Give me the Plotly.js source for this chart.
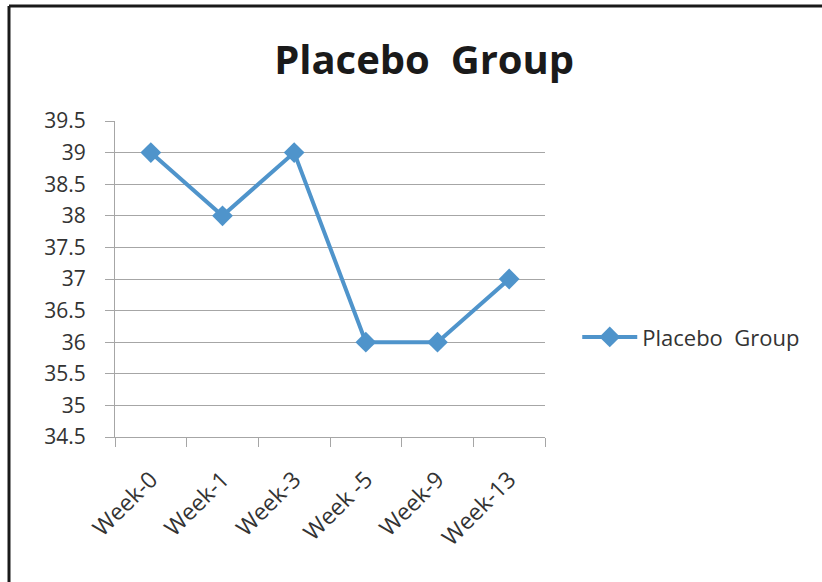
<!DOCTYPE html>
<html>
<head>
<meta charset="utf-8">
<script src="https://cdn.plot.ly/plotly-3.0.1.min.js"></script>
<style>
html,body{margin:0;padding:0;background:#fff;}
#chart{width:822px;height:582px;}
</style>
</head>
<body>
<div id="chart"></div>
<script>
const categories = ["Week-0", "Week-1", "Week-3", "Week -5", "Week-9", "Week-13"];
const placeboValues = [39, 38, 39, 36, 36, 37];
const yTickValues = [34.5, 35, 35.5, 36, 36.5, 37, 37.5, 38, 38.5, 39, 39.5];
const yTickLabels = ["34.5", "35", "35.5", "36", "36.5", "37", "37.5", "38", "38.5", "39", "39.5"];
const seriesName = "Placebo  Group";
const chartTitle = "Placebo  Group";

const FONT = "Open Sans, Noto Sans, sans-serif";
const lineColor = "#4f94cb";

const trace = {
  x: categories,
  y: placeboValues,
  type: "scatter",
  mode: "lines+markers",
  name: seriesName,
  line: {color: lineColor, width: 4},
  marker: {symbol: "diamond", size: 16, color: lineColor},
  cliponaxis: false
};

const layout = {
  width: 822,
  height: 582,
  paper_bgcolor: "#ffffff",
  plot_bgcolor: "#ffffff",
  margin: {l: 115, r: 277, t: 121, b: 145},
  title: {
    text: "<b>" + chartTitle + "</b>",
    font: {family: FONT, size: 40, color: "#1a1a1a"},
    x: 0.516, xanchor: "center",
    y: 0.897, yanchor: "middle"
  },
  showlegend: true,
  legend: {
    x: 1.075, xanchor: "left",
    y: 0.316, yanchor: "middle",
    itemwidth: 55,
    font: {family: FONT, size: 22, color: "#333333"},
    bgcolor: "rgba(0,0,0,0)"
  },
  xaxis: {
    type: "category",
    range: [-0.5, 5.5],
    showgrid: false,
    showline: true,
    linecolor: "#a6a6a6",
    linewidth: 1,
    ticks: "outside",
    ticklen: 9,
    tickcolor: "#a6a6a6",
    tickson: "boundaries",
    tickangle: -45,
    ticklabelstandoff: 19,
    tickfont: {family: FONT, size: 23, color: "#333333"},
    zeroline: false,
    fixedrange: true
  },
  yaxis: {
    range: [34.5, 39.5],
    tickmode: "array",
    tickvals: yTickValues,
    ticktext: yTickLabels,
    showgrid: true,
    gridcolor: "#a6a6a6",
    gridwidth: 1,
    showline: true,
    linecolor: "#a6a6a6",
    linewidth: 1,
    ticks: "outside",
    ticklen: 9,
    tickcolor: "#a6a6a6",
    ticklabelstandoff: 15,
    tickfont: {family: FONT, size: 21, color: "#333333"},
    zeroline: false,
    fixedrange: true
  },
  shapes: [
    {type: "line", xref: "paper", yref: "paper", x0: -0.2465, x1: -0.2465, y0: -0.5, y1: 1.364,
     line: {color: "#1a1a1a", width: 3}},
    {type: "line", xref: "paper", yref: "paper", x0: -0.2465, x1: 1.7, y0: 1.364, y1: 1.364,
     line: {color: "#1a1a1a", width: 3}}
  ]
};

Plotly.newPlot("chart", [trace], layout, {displayModeBar: false, staticPlot: true});
</script>
</body>
</html>
